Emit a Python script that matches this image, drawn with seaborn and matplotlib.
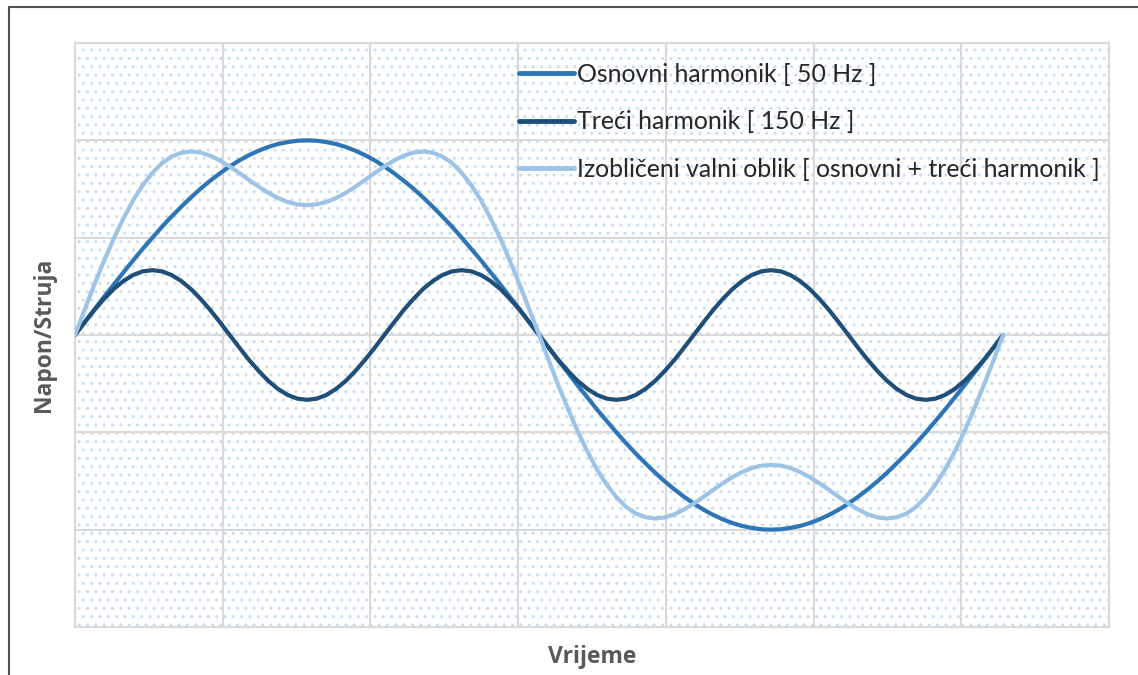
import numpy as np
import pandas as pd
import matplotlib
matplotlib.use("Agg")
import matplotlib.pyplot as plt
from matplotlib.patches import Rectangle
import seaborn as sns

# ---- data ----
# time axis in radians (one full period of the 50 Hz wave)
x_rad = [0.000, 0.065, 0.131, 0.196, 0.262, 0.327, 0.393, 0.458, 0.524, 0.589, 0.654, 0.720,
         0.785, 0.851, 0.916, 0.982, 1.047, 1.113, 1.178, 1.244, 1.309, 1.374, 1.440, 1.505,
         1.571, 1.636, 1.702, 1.767, 1.833, 1.898, 1.963, 2.029, 2.094, 2.160, 2.225, 2.291,
         2.356, 2.422, 2.487, 2.553, 2.618, 2.683, 2.749, 2.814, 2.880, 2.945, 3.011, 3.076,
         3.142, 3.207, 3.272, 3.338, 3.403, 3.469, 3.534, 3.600, 3.665, 3.731, 3.796, 3.862,
         3.927, 3.992, 4.058, 4.123, 4.189, 4.254, 4.320, 4.385, 4.451, 4.516, 4.581, 4.647,
         4.712, 4.778, 4.843, 4.909, 4.974, 5.040, 5.105, 5.171, 5.236, 5.301, 5.367, 5.432,
         5.498, 5.563, 5.629, 5.694, 5.760, 5.825, 5.890, 5.956, 6.021, 6.087, 6.152, 6.218,
         6.283]

osnovni = [0.000, 0.065, 0.131, 0.195, 0.259, 0.321, 0.383, 0.442, 0.500, 0.556, 0.609, 0.659,
           0.707, 0.752, 0.793, 0.831, 0.866, 0.897, 0.924, 0.947, 0.966, 0.981, 0.991, 0.998,
           1.000, 0.998, 0.991, 0.981, 0.966, 0.947, 0.924, 0.897, 0.866, 0.831, 0.793, 0.752,
           0.707, 0.659, 0.609, 0.556, 0.500, 0.442, 0.383, 0.321, 0.259, 0.195, 0.131, 0.065,
           0.000, -0.065, -0.131, -0.195, -0.259, -0.321, -0.383, -0.442, -0.500, -0.556, -0.609, -0.659,
           -0.707, -0.752, -0.793, -0.831, -0.866, -0.897, -0.924, -0.947, -0.966, -0.981, -0.991, -0.998,
           -1.000, -0.998, -0.991, -0.981, -0.966, -0.947, -0.924, -0.897, -0.866, -0.831, -0.793, -0.752,
           -0.707, -0.659, -0.609, -0.556, -0.500, -0.442, -0.383, -0.321, -0.259, -0.195, -0.131, -0.065,
           0.000]

treci = [0.000, 0.065, 0.128, 0.185, 0.236, 0.277, 0.308, 0.327, 0.333, 0.327, 0.308, 0.277,
         0.236, 0.185, 0.128, 0.065, 0.000, -0.065, -0.128, -0.185, -0.236, -0.277, -0.308, -0.327,
         -0.333, -0.327, -0.308, -0.277, -0.236, -0.185, -0.128, -0.065, 0.000, 0.065, 0.128, 0.185,
         0.236, 0.277, 0.308, 0.327, 0.333, 0.327, 0.308, 0.277, 0.236, 0.185, 0.128, 0.065,
         0.000, -0.065, -0.128, -0.185, -0.236, -0.277, -0.308, -0.327, -0.333, -0.327, -0.308, -0.277,
         -0.236, -0.185, -0.128, -0.065, 0.000, 0.065, 0.128, 0.185, 0.236, 0.277, 0.308, 0.327,
         0.333, 0.327, 0.308, 0.277, 0.236, 0.185, 0.128, 0.065, 0.000, -0.065, -0.128, -0.185,
         -0.236, -0.277, -0.308, -0.327, -0.333, -0.327, -0.308, -0.277, -0.236, -0.185, -0.128, -0.065,
         0.000]

izoblicen = [0.000, 0.130, 0.259, 0.380, 0.495, 0.598, 0.691, 0.769, 0.833, 0.883, 0.917, 0.936,
             0.943, 0.937, 0.921, 0.896, 0.866, 0.832, 0.796, 0.762, 0.730, 0.704, 0.683, 0.671,
             0.667, 0.671, 0.683, 0.704, 0.730, 0.762, 0.796, 0.832, 0.866, 0.896, 0.921, 0.937,
             0.943, 0.936, 0.917, 0.883, 0.833, 0.769, 0.691, 0.598, 0.495, 0.380, 0.259, 0.130,
             0.000, -0.130, -0.259, -0.380, -0.495, -0.598, -0.691, -0.769, -0.833, -0.883, -0.917, -0.936,
             -0.943, -0.937, -0.921, -0.896, -0.866, -0.832, -0.796, -0.762, -0.730, -0.704, -0.683, -0.671,
             -0.667, -0.671, -0.683, -0.704, -0.730, -0.762, -0.796, -0.832, -0.866, -0.896, -0.921, -0.937,
             -0.943, -0.936, -0.917, -0.883, -0.833, -0.769, -0.691, -0.598, -0.495, -0.380, -0.259, -0.130,
             0.000]

series_names = ["Osnovni harmonik [ 50 Hz ]",
                "Treći harmonik [ 150 Hz ]",
                "Izobličeni valni oblik [ osnovni + treći harmonik ]"]
series_colors = ["#2E75B6", "#1F4E79", "#9DC3E6"]

x_label = "Vrijeme"
y_label = "Napon/Struja"

# ---- build long-form table ----
frames = []
for name, vals in zip(series_names, [osnovni, treci, izoblicen]):
    frames.append(pd.DataFrame({"t": x_rad, "v": vals, "serija": name}))
df = pd.concat(frames, ignore_index=True)

sns.set_style("white")
plt.rcParams["font.family"] = ["Lato", "DejaVu Sans"]
plt.rcParams["hatch.linewidth"] = 1.0

fig = plt.figure(figsize=(11.38, 6.75), dpi=100)
ax = fig.add_axes([75 / 1138, 1 - 627 / 675, (1109 - 75) / 1138, (627 - 43) / 675])

# dotted pattern background
bg = Rectangle((0, 0), 1, 1, transform=ax.transAxes, facecolor="white",
               edgecolor="#C9DEF2", linewidth=0, hatch="..", zorder=0)
ax.add_patch(bg)

sns.lineplot(data=df, x="t", y="v", hue="serija", hue_order=series_names,
             palette=series_colors, sort=False, linewidth=3.0, ax=ax, zorder=3,
             estimator=None, solid_joinstyle="round", solid_capstyle="round")

ax.set_xlim(0, 7)
ax.set_ylim(-1.5, 1.5)
ax.set_xticks(np.arange(0, 8, 1))
ax.set_yticks(np.arange(-1.5, 1.51, 0.5))
ax.tick_params(length=0, labelbottom=False, labelleft=False)
ax.grid(True, color="#D9D9D9", linewidth=1.5, zorder=1)
ax.set_axisbelow(True)
for s in ax.spines.values():
    s.set_visible(True)
    s.set_color("#D9D9D9")
    s.set_linewidth(1.5)

ax.set_xlabel(x_label, fontsize=16.5, fontweight="bold", color="#595959",
              family=["Open Sans", "DejaVu Sans"])
ax.set_ylabel(y_label, fontsize=16.5, fontweight="bold", color="#595959",
              family=["Open Sans", "DejaVu Sans"])
ax.xaxis.set_label_coords(0.5, -0.030)
ax.yaxis.set_label_coords(-0.018, 0.5)

leg = ax.legend(loc="upper left", bbox_to_anchor=((519 - 75) / 1034, 1 - (63 - 43) / 584),
                frameon=False, fontsize=17.9, handlelength=2.2, handletextpad=0.12,
                labelspacing=0.98, borderaxespad=0, borderpad=0)
for line in leg.get_lines():
    line.set_linewidth(3.5)

# outer chart border (top and left visible in the reference)
fig.add_artist(plt.Line2D([8.5 / 1138, 1.0], [1 - 6.5 / 675, 1 - 6.5 / 675],
                          transform=fig.transFigure, color="#505050", linewidth=1.5))
fig.add_artist(plt.Line2D([8.5 / 1138, 8.5 / 1138], [0.0, 1 - 6.5 / 675],
                          transform=fig.transFigure, color="#505050", linewidth=1.5))

fig.savefig("out.png", dpi=100)
